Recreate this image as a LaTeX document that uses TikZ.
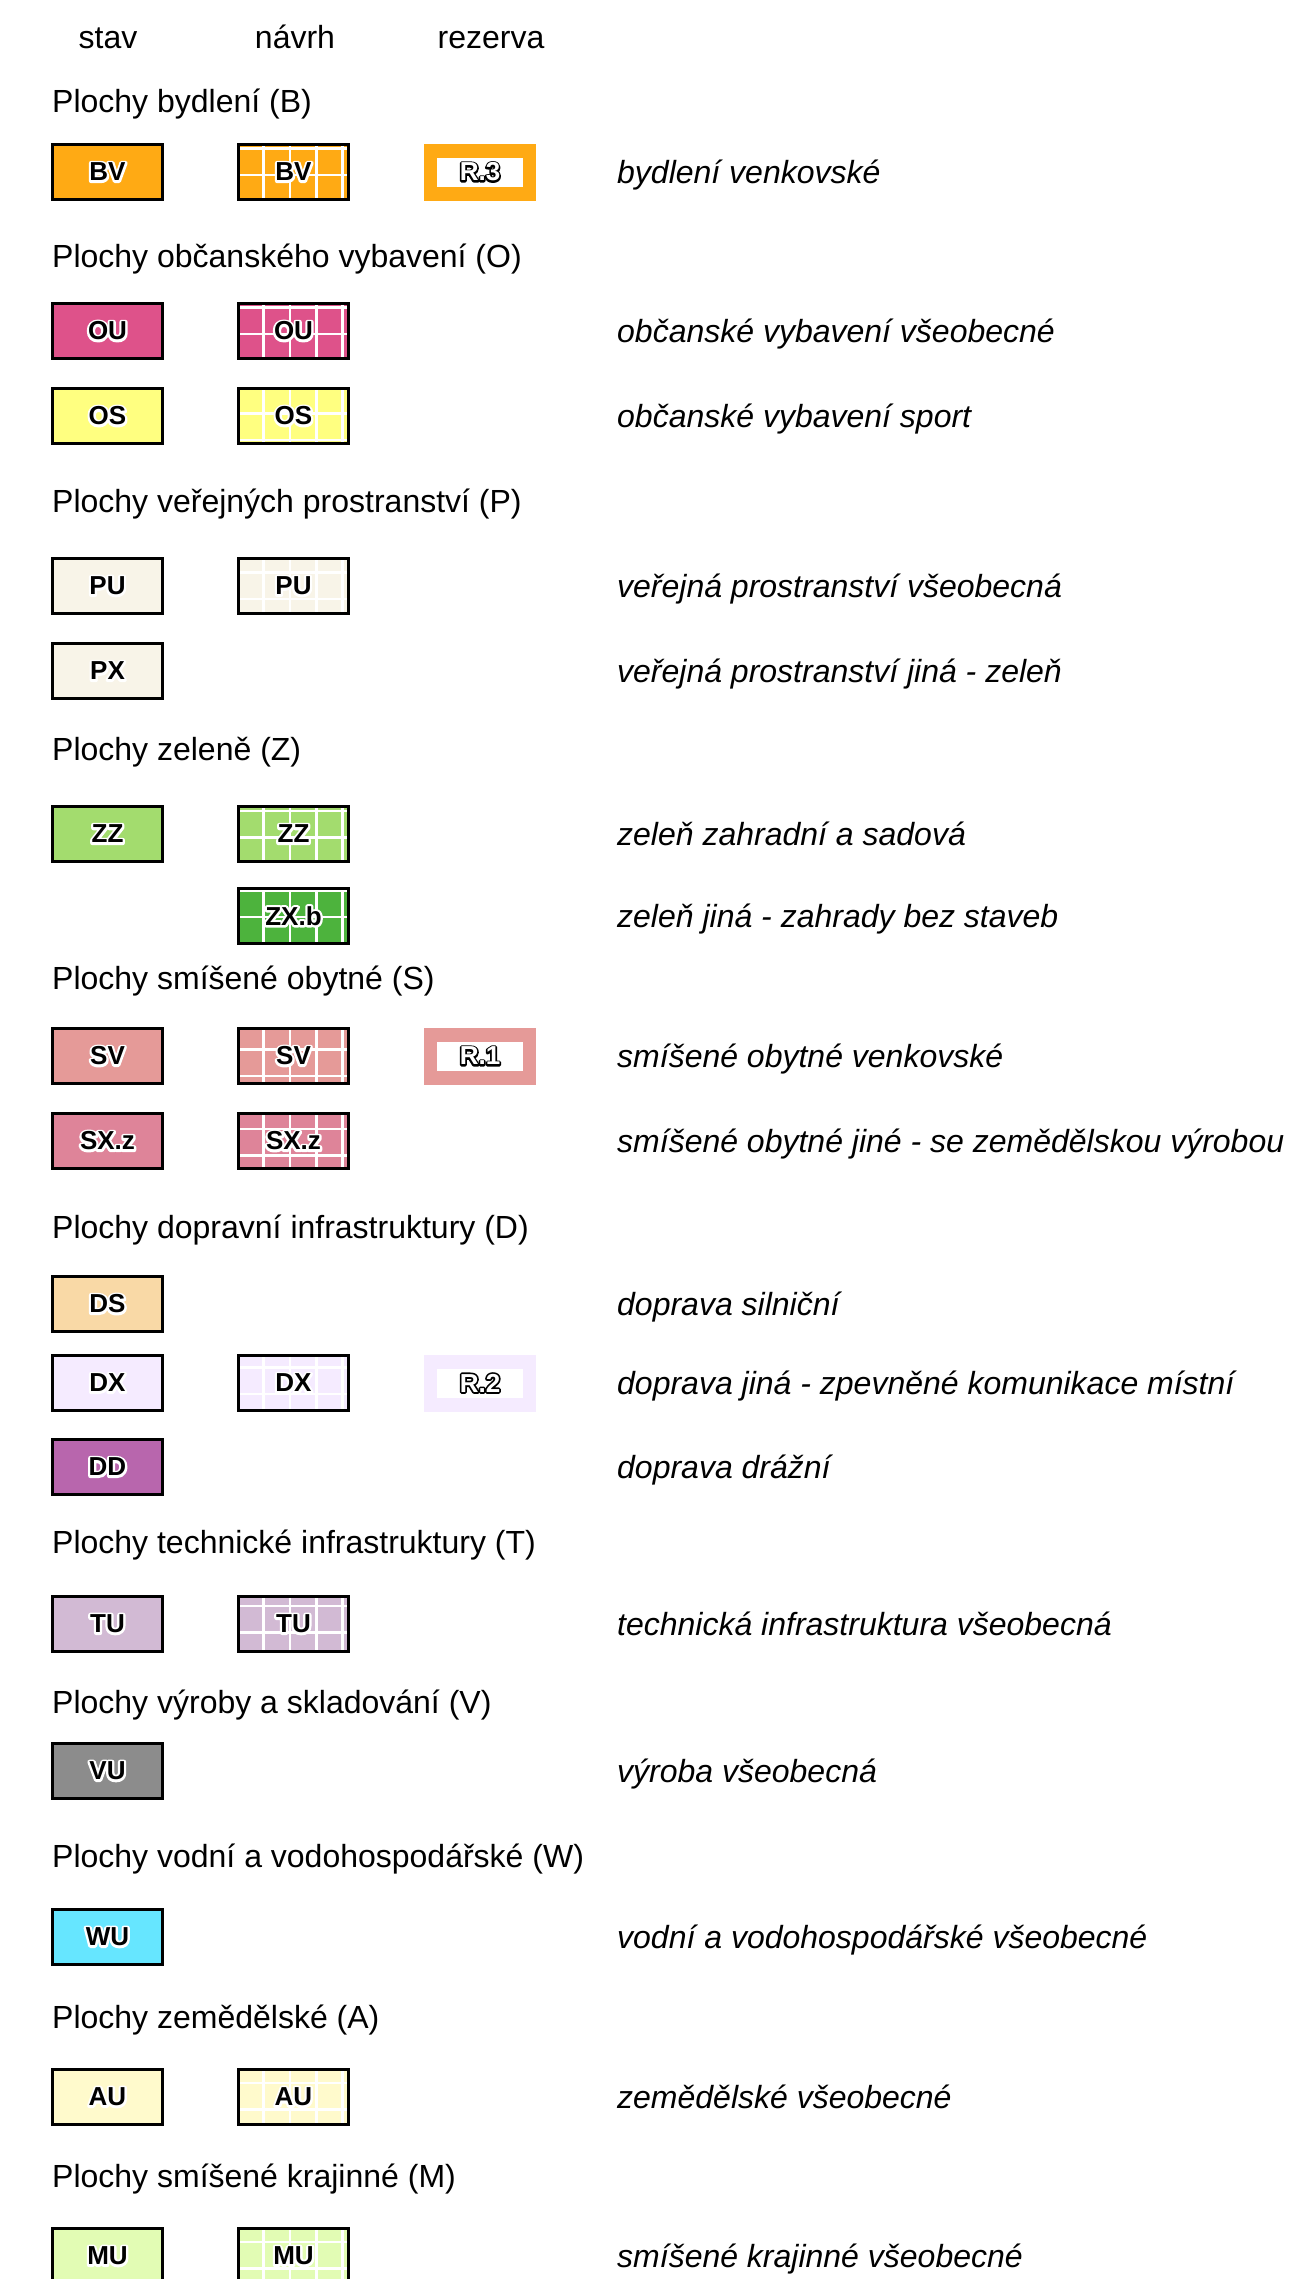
\documentclass[tikz,border=0pt]{standalone}
\usepackage{fontspec}
\setmainfont{Liberation Sans}
\definecolor{cBV}{HTML}{FFAA14}
\definecolor{cOU}{HTML}{DE528A}
\definecolor{cOS}{HTML}{FFFF80}
\definecolor{cPU}{HTML}{F8F4E8}
\definecolor{cZZ}{HTML}{A3DC6E}
\definecolor{cZX}{HTML}{4DB33D}
\definecolor{cSV}{HTML}{E59A98}
\definecolor{cSX}{HTML}{DE8499}
\definecolor{cDS}{HTML}{F9D9A6}
\definecolor{cDX}{HTML}{F5EBFF}
\definecolor{cDD}{HTML}{B866AD}
\definecolor{cTU}{HTML}{D2BAD4}
\definecolor{cVU}{HTML}{8C8C8C}
\definecolor{cWU}{HTML}{66E6FF}
\definecolor{cAU}{HTML}{FFFACC}
\definecolor{cMU}{HTML}{E2FCB4}
% halo: a stroked copy of the text behind the filled text
\newcommand\halo[4]{%
  \rlap{\textcolor{#1}{\special{pdf:literal direct 1 Tr #2 w 1 j 1 J}#4\special{pdf:literal direct 0 Tr}}}%
  \textcolor{#3}{#4}}
\tikzset{
  legbox/.style={minimum width=110.4pt, minimum height=55.4pt, inner sep=0pt, outer sep=0pt},
  frame/.style={draw=black, line width=2.6pt},
  gridl/.style={white, line width=2.4pt},
  head/.style={anchor=base west, inner sep=0pt, font=\fontsize{32}{38}\selectfont},
  desc/.style={anchor=base west, inner sep=0pt, font=\fontsize{32}{38}\selectfont\itshape},
  colhead/.style={anchor=base, inner sep=0pt, font=\fontsize{32}{38}\selectfont},
  lbl/.style={inner sep=0pt, font=\fontsize{26}{30}\selectfont\bfseries},
}
\newcommand\stavbox[4]{%
  \node[legbox, fill=#3, frame] (#1) at (107.5,#2) {};
  \node[lbl] (#1t) at (#1.center) {\halo{white}{4.5}{black}{#4}};}
\newcommand\navrhbox[4]{%
  \node[legbox, fill=#3] (#1) at (293.5,#2) {};
  \begin{scope}
    \clip (#1.south west) rectangle (#1.north east);
    \pgfmathtruncatemacro\kmin{(#2-29-16)/26.5}
    \foreach \k in {0,...,3}{\draw[gridl] (230,{16+26.5*(\kmin+\k)}) -- (360,{16+26.5*(\kmin+\k)});}
    \foreach \gx in {263.3,290,316.3,342.6}{\draw[gridl] (\gx,{#2-40}) -- (\gx,{#2+40});}
  \end{scope}
  \draw[frame] (#1.south west) rectangle (#1.north east);
  \node[lbl] (#1t) at (#1.center) {\halo{white}{4.5}{black}{#4}};}
\newcommand\rezbox[4]{%
  \node[legbox, fill=#3, minimum width=112pt, minimum height=57pt] (#1) at (480,#2) {};
  \node[fill=white, minimum width=86pt, minimum height=29pt, inner sep=0pt] (#1w) at (#1.center) {};
  \node[lbl] (#1t) at (#1.center) {\halo{black}{3.4}{white}{#4}};}
\begin{document}
\begin{tikzpicture}[x=1pt,y=-1pt]
\useasboundingbox (0,0) rectangle (1296,2279);
\clip (0,0) rectangle (1296,2279);
\fill[white] (0,0) rectangle (1296,2279);
% column headings
\node[colhead] (hstav) at (108,48) {stav};
\node[colhead] (hnavrh) at (295,48) {návrh};
\node[colhead] (hrez) at (491,48) {rezerva};
% B
\node[head] (hB) at (52,112) {Plochy bydlení (B)};
\stavbox{BVs}{172}{cBV}{BV}
\navrhbox{BVn}{172}{cBV}{BV}
\rezbox{BVr}{172}{cBV}{R.3}
\node[desc] (dBV) at (617,183) {bydlení venkovské};
% O
\node[head] (hO) at (52,267) {Plochy občanského vybavení (O)};
\stavbox{OUs}{331}{cOU}{OU}
\navrhbox{OUn}{331}{cOU}{OU}
\node[desc] (dOU) at (617,342) {občanské vybavení všeobecné};
\stavbox{OSs}{416}{cOS}{OS}
\navrhbox{OSn}{416}{cOS}{OS}
\node[desc] (dOS) at (617,427) {občanské vybavení sport};
% P
\node[head] (hP) at (52,512) {Plochy veřejných prostranství (P)};
\stavbox{PUs}{586}{cPU}{PU}
\navrhbox{PUn}{586}{cPU}{PU}
\node[desc] (dPU) at (617,597) {veřejná prostranství všeobecná};
\stavbox{PXs}{671}{cPU}{PX}
\node[desc] (dPX) at (617,682) {veřejná prostranství jiná - zeleň};
% Z
\node[head] (hZ) at (52,760) {Plochy zeleně (Z)};
\stavbox{ZZs}{834}{cZZ}{ZZ}
\navrhbox{ZZn}{834}{cZZ}{ZZ}
\node[desc] (dZZ) at (617,845) {zeleň zahradní a sadová};
\navrhbox{ZXn}{916}{cZX}{ZX.b}
\node[desc] (dZX) at (617,927) {zeleň jiná - zahrady bez staveb};
% S
\node[head] (hS) at (52,989) {Plochy smíšené obytné (S)};
\stavbox{SVs}{1056}{cSV}{SV}
\navrhbox{SVn}{1056}{cSV}{SV}
\rezbox{SVr}{1056}{cSV}{R.1}
\node[desc] (dSV) at (617,1067) {smíšené obytné venkovské};
\stavbox{SXs}{1141}{cSX}{SX.z}
\navrhbox{SXn}{1141}{cSX}{SX.z}
\node[desc] (dSX) at (617,1152) {smíšené obytné jiné - se zemědělskou výrobou};
% D
\node[head] (hD) at (52,1238) {Plochy dopravní infrastruktury (D)};
\stavbox{DSs}{1304}{cDS}{DS}
\node[desc] (dDS) at (617,1315) {doprava silniční};
\stavbox{DXs}{1383}{cDX}{DX}
\navrhbox{DXn}{1383}{cDX}{DX}
\rezbox{DXr}{1383}{cDX}{R.2}
\node[desc] (dDX) at (617,1394) {doprava jiná - zpevněné komunikace místní};
\stavbox{DDs}{1467}{cDD}{DD}
\node[desc] (dDD) at (617,1478) {doprava drážní};
% T
\node[head] (hT) at (52,1553) {Plochy technické infrastruktury (T)};
\stavbox{TUs}{1624}{cTU}{TU}
\navrhbox{TUn}{1624}{cTU}{TU}
\node[desc] (dTU) at (617,1635) {technická infrastruktura všeobecná};
% V
\node[head] (hV) at (52,1713) {Plochy výroby a skladování (V)};
\stavbox{VUs}{1771}{cVU}{VU}
\node[desc] (dVU) at (617,1782) {výroba všeobecná};
% W
\node[head] (hW) at (52,1867) {Plochy vodní a vodohospodářské (W)};
\stavbox{WUs}{1937}{cWU}{WU}
\node[desc] (dWU) at (617,1948) {vodní a vodohospodářské všeobecné};
% A
\node[head] (hA) at (52,2028) {Plochy zemědělské (A)};
\stavbox{AUs}{2097}{cAU}{AU}
\navrhbox{AUn}{2097}{cAU}{AU}
\node[desc] (dAU) at (617,2108) {zemědělské všeobecné};
% M
\node[head] (hM) at (52,2187) {Plochy smíšené krajinné (M)};
\stavbox{MUs}{2256}{cMU}{MU}
\navrhbox{MUn}{2256}{cMU}{MU}
\node[desc] (dMU) at (617,2267) {smíšené krajinné všeobecné};
\end{tikzpicture}
\end{document}
